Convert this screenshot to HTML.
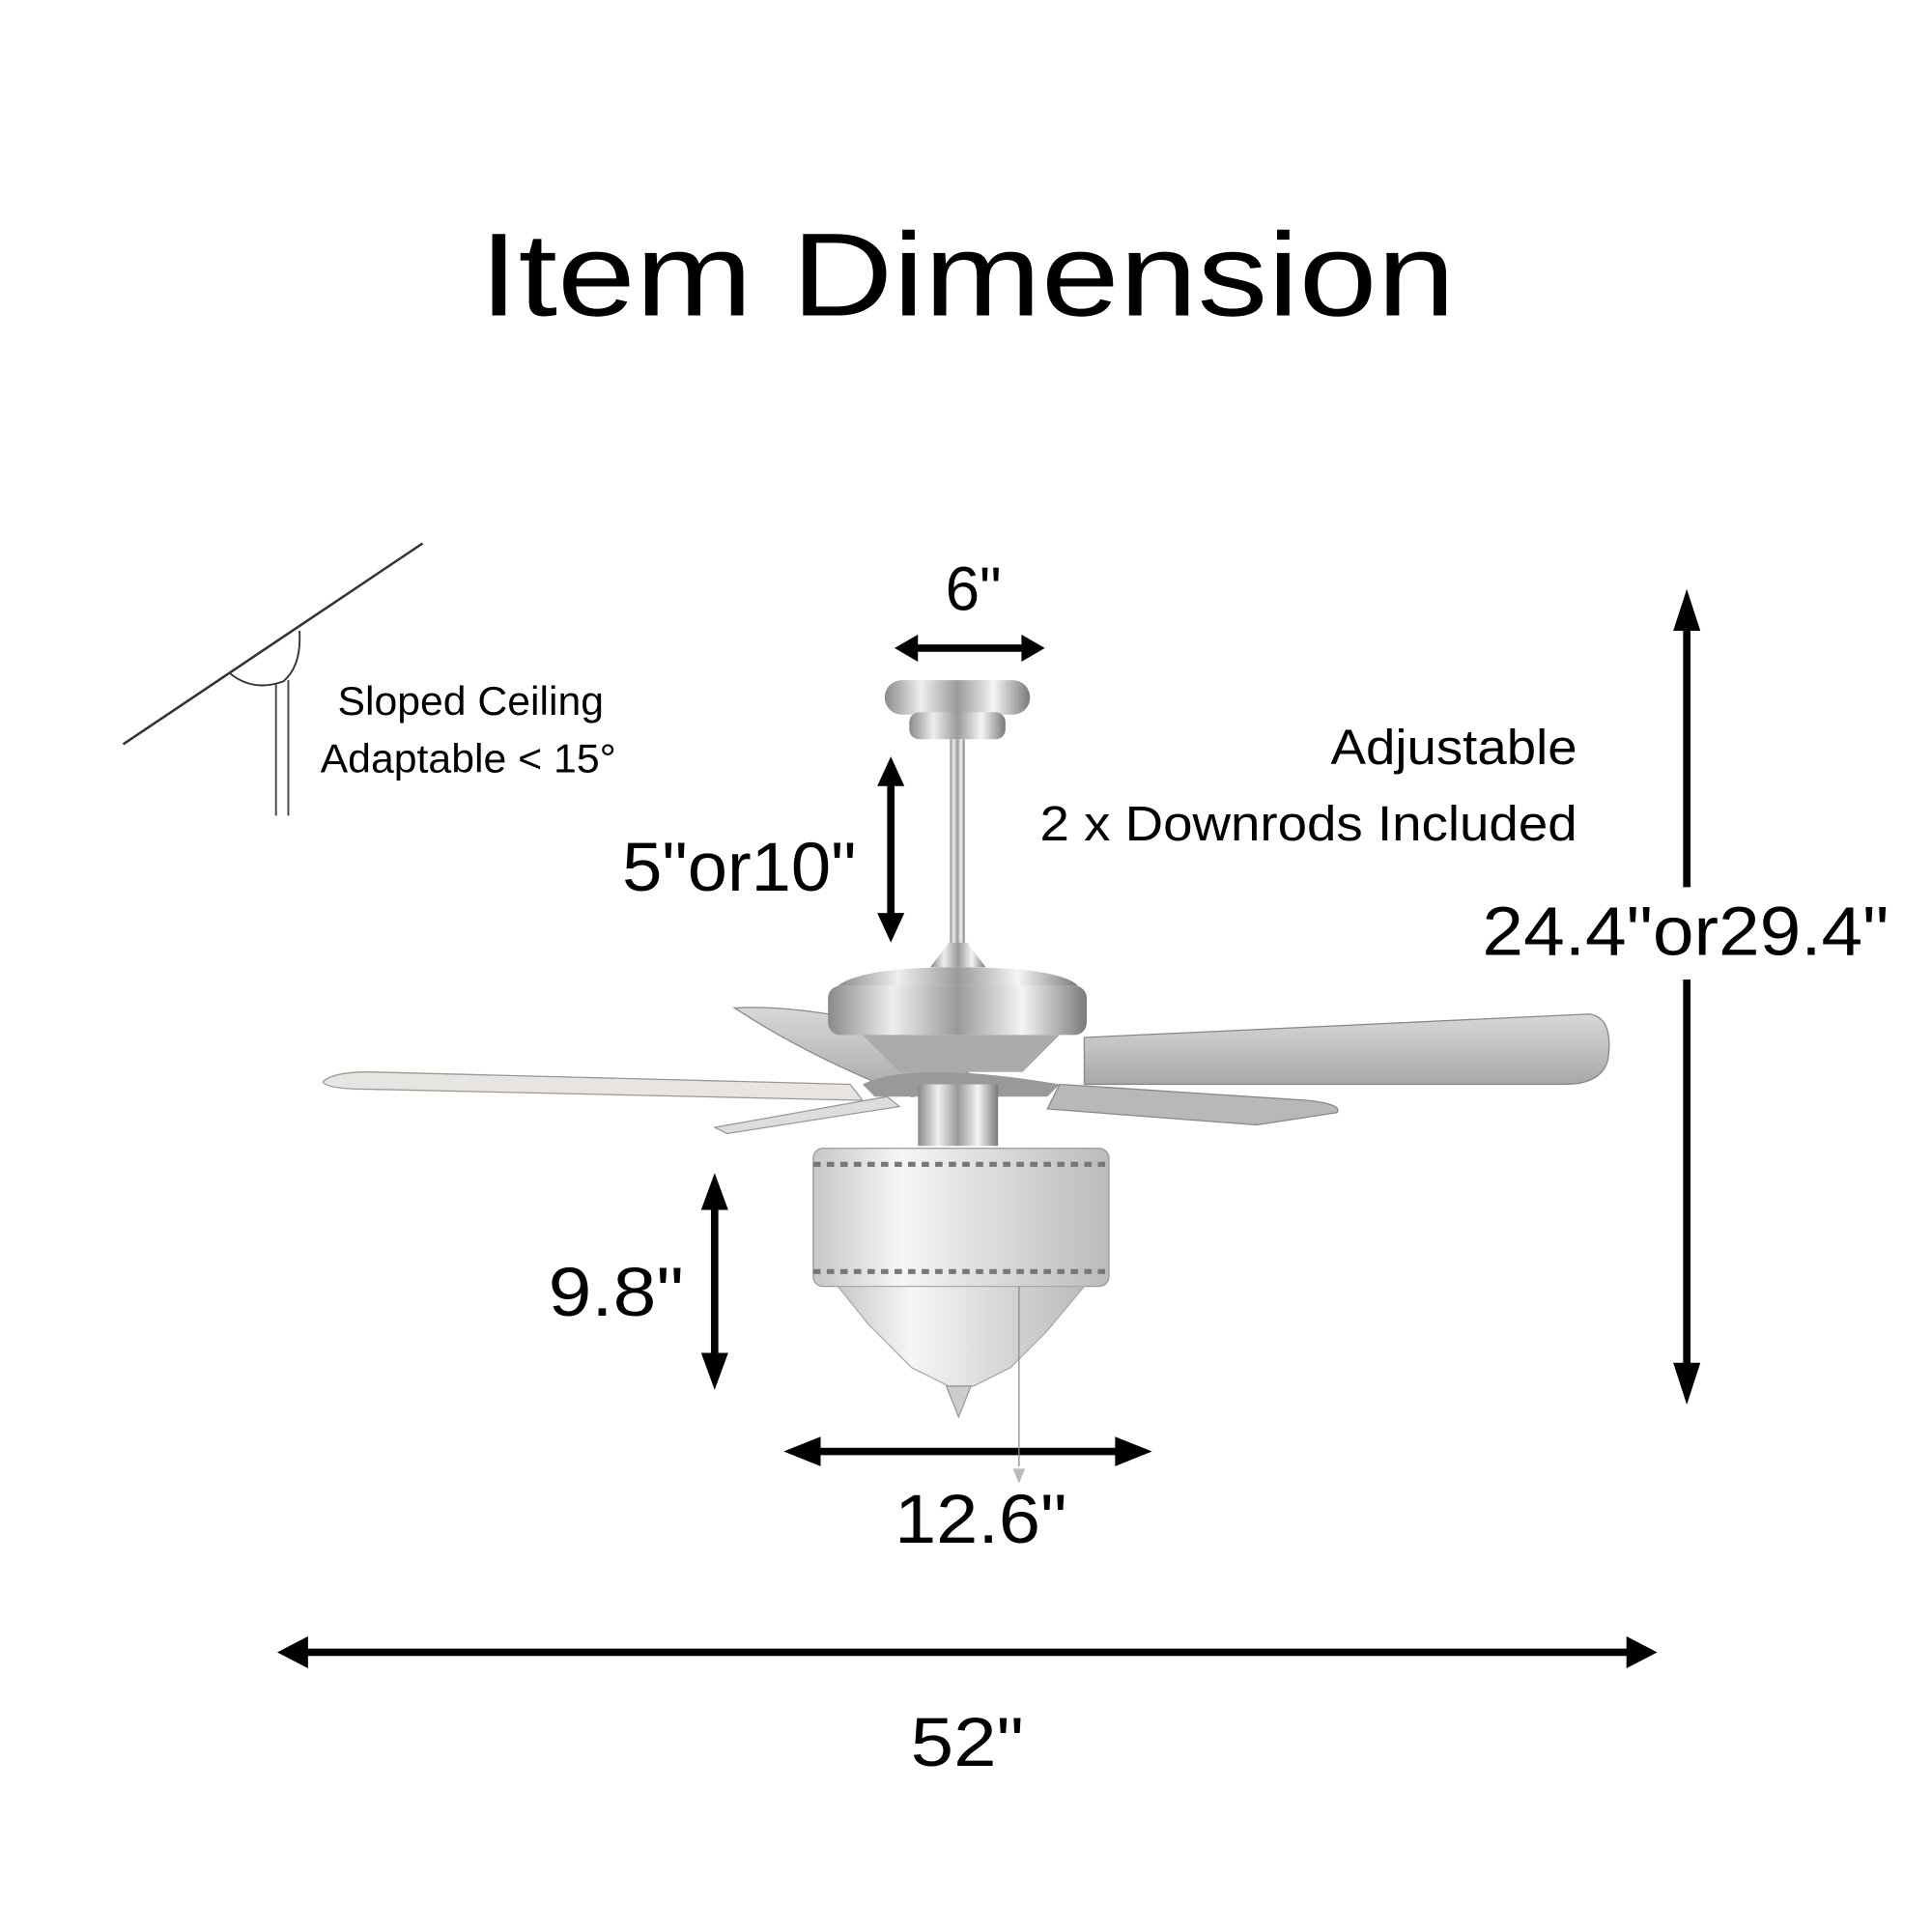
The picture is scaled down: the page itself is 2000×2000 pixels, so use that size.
<!DOCTYPE html>
<html><head><meta charset="utf-8"><style>
html,body{margin:0;padding:0;background:#fff;width:2000px;height:2000px;overflow:hidden}
svg{display:block}
text{font-family:"Liberation Sans",Arial,sans-serif;fill:#000}
</style></head><body>
<svg width="2000" height="2000" viewBox="0 0 1568 1568" xmlns="http://www.w3.org/2000/svg">
<defs>
<linearGradient id="chrome" x1="0" y1="0" x2="1" y2="0">
<stop offset="0" stop-color="#8a8a8a"/><stop offset="0.25" stop-color="#eeeeee"/><stop offset="0.5" stop-color="#9a9a9a"/><stop offset="0.75" stop-color="#f4f4f4"/><stop offset="1" stop-color="#7a7a7a"/>
</linearGradient>
<linearGradient id="blade" x1="0" y1="0" x2="0" y2="1">
<stop offset="0" stop-color="#d8d8d8"/><stop offset="1" stop-color="#a8a8a8"/>
</linearGradient>
<linearGradient id="crys" x1="0" y1="0" x2="1" y2="0">
<stop offset="0" stop-color="#c8c8c8"/><stop offset="0.3" stop-color="#f6f6f6"/><stop offset="0.6" stop-color="#dcdcdc"/><stop offset="1" stop-color="#bbbbbb"/>
</linearGradient>
</defs>
<text x="785" y="256" font-size="96" text-anchor="middle" textLength="792" lengthAdjust="spacingAndGlyphs">Item Dimension</text>

<!-- sloped ceiling -->
<line x1="100" y1="604" x2="343" y2="441" stroke="#333" stroke-width="2"/>
<path d="M186 546 Q205 562 230 553 Q245 540 243 512" fill="none" stroke="#333" stroke-width="1.5"/>
<line x1="224" y1="555" x2="224" y2="662" stroke="#444" stroke-width="1.5"/>
<line x1="234" y1="552" x2="234" y2="662" stroke="#444" stroke-width="1.5"/>
<text x="382" y="580" font-size="33" text-anchor="middle" textLength="216" lengthAdjust="spacingAndGlyphs">Sloped Ceiling</text>
<text x="380" y="627" font-size="33" text-anchor="middle" textLength="240" lengthAdjust="spacingAndGlyphs">Adaptable &lt; 15°</text>

<!-- arrows -->
<g stroke="#000" stroke-width="6" fill="#000">
<line x1="740" y1="526" x2="835" y2="526"/>
<path d="M726 526 L745 515 L745 537Z" stroke="none"/><path d="M848 526 L829 515 L829 537Z" stroke="none"/>
<line x1="723" y1="630" x2="723" y2="750"/>
<path d="M723 614 L712 638 L734 638Z" stroke="none"/><path d="M723 765 L712 741 L734 741Z" stroke="none"/>
<line x1="1369" y1="500" x2="1369" y2="720"/>
<line x1="1369" y1="795" x2="1369" y2="1120"/>
<path d="M1369 478 L1358 512 L1380 512Z" stroke="none"/><path d="M1369 1140 L1358 1106 L1380 1106Z" stroke="none"/>
<line x1="580" y1="970" x2="580" y2="1110"/>
<path d="M580 952 L569 982 L591 982Z" stroke="none"/><path d="M580 1128 L569 1098 L591 1098Z" stroke="none"/>
<line x1="650" y1="1178" x2="920" y2="1178"/>
<path d="M636 1178 L666 1166 L666 1190Z" stroke="none"/><path d="M935 1178 L905 1166 L905 1190Z" stroke="none"/>
<line x1="240" y1="1341" x2="1330" y2="1341"/>
<path d="M225 1341 L250 1328 L250 1354Z" stroke="none"/><path d="M1345 1341 L1320 1328 L1320 1354Z" stroke="none"/>
</g>

<!-- labels -->
<text x="790" y="495" font-size="50" text-anchor="middle">6"</text>
<text x="1280" y="620" font-size="40" text-anchor="end" textLength="200" lengthAdjust="spacingAndGlyphs">Adjustable</text>
<text x="1280" y="682" font-size="40" text-anchor="end" textLength="436" lengthAdjust="spacingAndGlyphs">2 x Downrods Included</text>
<text x="600" y="723" font-size="56" text-anchor="middle" textLength="190" lengthAdjust="spacingAndGlyphs">5"or10"</text>
<text x="1368" y="775" font-size="56" text-anchor="middle" textLength="330" lengthAdjust="spacingAndGlyphs">24.4"or29.4"</text>
<text x="500" y="1068" font-size="56" text-anchor="middle" textLength="110" lengthAdjust="spacingAndGlyphs">9.8"</text>
<text x="796" y="1252" font-size="56" text-anchor="middle" textLength="140" lengthAdjust="spacingAndGlyphs">12.6"</text>
<text x="785" y="1433" font-size="56" text-anchor="middle" textLength="92" lengthAdjust="spacingAndGlyphs">52"</text>

<!-- fan -->
<path d="M596 818 Q650 815 730 835 L800 880 L740 890 Q660 860 596 818Z" fill="url(#blade)" stroke="#888"/>
<path d="M262 878 Q270 870 300 870 L690 880 L700 893 L300 884 Q265 884 262 878Z" fill="#e8e4e0" stroke="#999"/>
<path d="M580 915 L720 890 L730 898 L590 920Z" fill="#ddd" stroke="#999"/>
<path d="M880 842 L1290 823 Q1310 826 1305 860 Q1300 880 1270 880 L880 880Z" fill="url(#blade)" stroke="#888"/>
<path d="M860 880 L1060 893 Q1090 896 1085 903 L1020 913 L850 900Z" fill="#b8b8b8" stroke="#888"/>
<rect x="718" y="552" width="118" height="28" rx="14" fill="url(#chrome)"/>
<rect x="738" y="578" width="78" height="22" rx="8" fill="url(#chrome)"/>
<rect x="771" y="600" width="12" height="170" fill="url(#chrome)"/>
<path d="M755 785 L770 765 L785 765 L800 785Z" fill="url(#chrome)"/>
<path d="M680 800 Q700 785 777 785 Q860 785 875 800Z" fill="url(#chrome)"/>
<rect x="672" y="800" width="210" height="40" rx="10" fill="url(#chrome)"/>
<path d="M700 840 L860 840 L830 870 L730 870Z" fill="#aaa"/>
<path d="M700 880 Q740 860 860 880 L850 890 L710 890Z" fill="#999"/>
<rect x="745" y="880" width="65" height="50" fill="url(#chrome)"/>
<rect x="660" y="932" width="240" height="112" rx="8" fill="url(#crys)" stroke="#999"/>
<path d="M660 945 L900 945 M660 1032 L900 1032" stroke="#777" stroke-width="4" stroke-dasharray="6 5"/>
<path d="M680 1044 L880 1044 L850 1080 L820 1110 L790 1125 L770 1125 L740 1110 L705 1075Z" fill="url(#crys)" stroke="#aaa"/>
<path d="M768 1125 L788 1125 L778 1150Z" fill="#ccc" stroke="#999"/>
<line x1="827" y1="1044" x2="827" y2="1190" stroke="#888"/>
<path d="M822 1192 L832 1192 L827 1204Z" fill="#bbb"/>
</svg>
</body></html>
